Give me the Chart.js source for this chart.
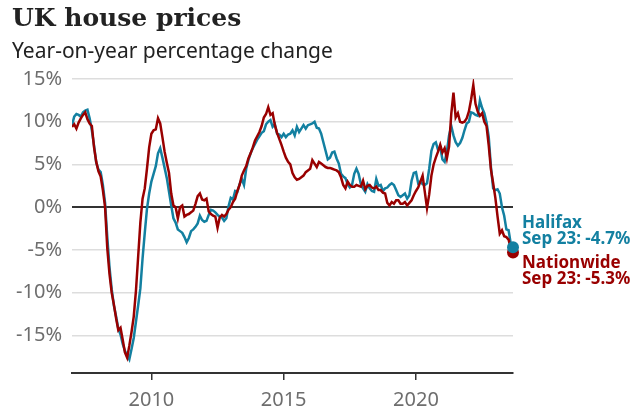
<!DOCTYPE html>
<html>
<head>
<meta charset="utf-8">
<script src="https://cdn.jsdelivr.net/npm/chart.js@4"></script>
<style>
  body { margin: 0; background: #fff; }
  #wrap { position: relative; width: 641px; height: 411px; }
  #title { position: absolute; left: 12px; top: 3px; font: bold 25px 'DejaVu Serif', serif; color: #222; line-height: 30px; }
  #subtitle { position: absolute; left: 12px; top: 36px; font: 21px 'Noto Sans', sans-serif; color: #222; line-height: 28px; }
  canvas { position: absolute; left: 0; top: 0; }
</style>
</head>
<body>
<div id="wrap">
  <canvas id="chart" width="641" height="411"></canvas>
  <div id="title">UK house prices</div>
  <div id="subtitle">Year-on-year percentage change</div>
</div>
<script>
// Monthly year-on-year change, Jan 2007 to Sep 2023
var startYear = 2007;
var seriesNames = ['Halifax', 'Nationwide'];
var seriesColors = ['#1380a1', '#990000'];
var lastLabel = 'Sep 23';
var yTicks = [-15, -10, -5, 0, 5, 10, 15];
var xTicks = [2010, 2015, 2020];

var halifax = [
  9.6, 10.6, 10.9, 10.8, 10.6, 11.1, 11.3, 11.4, 10.4, 9.0, 7.2, 5.2,
  4.4, 4.1, 2.6, 0.5, -3.5, -7.0, -9.6, -11.5, -12.8, -14.2, -14.9, -16.0,
  -16.8, -17.3, -17.8, -16.6, -15.3, -13.4, -11.5, -9.5, -6.0, -3.0, -0.2, 1.6,
  3.0, 3.9, 4.8, 6.3, 6.9, 5.8, 4.6, 3.4, 1.8, 0.2, -1.3, -1.8,
  -2.6, -2.8, -3.0, -3.5, -4.1, -3.6, -2.8, -2.6, -2.3, -1.9, -1.0, -1.5,
  -1.7, -1.6, -0.9, -0.3, -0.4, -0.6, -0.9, -1.1, -1.2, -1.6, -1.3, 0.1,
  1.1, 0.9, 1.9, 1.8, 2.7, 3.3, 2.6, 4.5, 5.5, 6.3, 6.9, 7.4,
  7.9, 8.3, 8.7, 8.9, 9.7, 10.0, 10.2, 9.4, 9.7, 8.6, 8.5, 8.2,
  8.6, 8.2, 8.5, 8.6, 9.0, 8.4, 9.4, 8.8, 9.2, 9.6, 9.2, 9.6,
  9.7, 9.8, 10.0, 9.3, 9.2, 8.6, 7.6, 6.6, 5.6, 5.8, 6.4, 6.5,
  5.7, 5.1, 3.9, 3.6, 3.4, 2.7, 2.3, 2.6, 3.9, 4.5, 3.9, 2.7,
  2.2, 1.8, 2.7, 2.2, 1.9, 1.8, 3.3, 2.5, 2.6, 1.9, 2.2, 2.3,
  2.6, 2.8, 2.6, 2.0, 1.4, 1.2, 1.4, 1.6, 1.0, 1.4, 3.1, 4.0,
  4.1, 2.8, 3.0, 2.7, 2.6, 2.8, 4.5, 6.6, 7.4, 7.6, 6.7, 7.0,
  5.6, 5.3, 6.5, 8.4, 9.5, 8.4, 7.6, 7.2, 7.5, 8.1, 9.0, 9.8,
  10.0, 11.1, 11.0, 10.8, 10.7, 12.5, 11.6, 11.0, 9.9, 8.2, 4.7, 2.2,
  2.0, 2.1, 1.6, 0.0, -1.0, -2.6, -2.7, -4.3, -4.7
];

var nationwide = [
  9.4, 9.7, 9.2, 9.9, 10.4, 10.8, 11.1, 10.3, 9.8, 9.5, 7.0, 5.3,
  4.2, 3.6, 2.0, 0.0, -4.8, -7.8, -10.0, -11.4, -13.0, -14.4, -14.1, -15.5,
  -17.0, -17.6, -16.2, -14.6, -12.8, -9.8, -5.8, -1.8, 1.0, 2.2, 4.5, 7.0,
  8.6, 9.0, 9.1, 10.4, 9.8, 8.2, 6.5, 5.2, 4.0, 1.6, 0.2, 0.0,
  -1.3, 0.0, 0.2, -1.1, -0.9, -0.8, -0.6, -0.4, 0.4, 1.3, 1.6, 0.9,
  0.8, 1.0, -0.5, -0.8, -1.0, -1.1, -2.4, -1.2, -0.9, -1.1, -0.8, -0.3,
  0.0, 0.6, 1.0, 1.9, 2.6, 3.7, 4.3, 4.8, 5.7, 6.3, 7.0, 7.8,
  8.3, 8.8, 9.5, 10.5, 10.9, 11.7, 10.8, 11.0, 9.6, 8.7, 8.0, 7.3,
  6.5, 5.8, 5.3, 5.0, 4.0, 3.5, 3.2, 3.3, 3.5, 3.7, 4.1, 4.3,
  4.5, 5.5, 5.1, 4.7, 5.3, 5.1, 4.9, 4.7, 4.6, 4.6, 4.5, 4.4,
  4.3, 4.1, 3.5, 2.6, 2.2, 3.0, 2.6, 2.4, 2.4, 2.6, 2.5, 2.4,
  3.1, 2.1, 2.5, 2.6, 2.3, 2.2, 2.4, 2.0, 2.0, 1.7, 1.6, 0.5,
  0.2, 0.6, 0.4, 0.8, 0.8, 0.4, 0.4, 0.6, 0.2, 0.5, 0.8, 1.4,
  1.9, 2.3, 3.0, 3.7, 1.8, -0.1, 1.5, 3.7, 5.0, 5.8, 6.5, 7.3,
  6.4, 6.9, 5.7, 7.1, 10.9, 13.4, 10.5, 11.0, 10.0, 9.9, 10.0, 10.4,
  11.2, 12.6, 14.3, 12.1, 11.2, 10.7, 11.0, 10.0, 9.5, 7.2, 4.4, 2.8,
  1.1, -1.1, -3.1, -2.7, -3.4, -3.5, -3.8, -4.8, -5.3
];

function toPoints(values) {
    return values.map(function(v, i) {
        return { x: startYear + i / 12, y: v };
    });
}

var lastIndex = halifax.length - 1;

// Draws the end dots and the labels to the right of the lines
var endLabels = {
    id: 'endLabels',
    afterDatasetsDraw: function(chart) {
        var ctx = chart.ctx;
        var x0 = chart.chartArea.right + 9;
        var pts = [0, 1].map(function(i) {
            return chart.getDatasetMeta(i).data[lastIndex];
        });
        // Nationwide dot first, Halifax dot over it
        [1, 0].forEach(function(i) {
            ctx.beginPath();
            ctx.arc(pts[i].x, pts[i].y, 6, 0, Math.PI * 2);
            ctx.fillStyle = seriesColors[i];
            ctx.fill();
        });
        ctx.save();
        ctx.font = 'bold 17px "Noto Sans", sans-serif';
        ctx.textAlign = 'left';
        ctx.textBaseline = 'alphabetic';
        var vals = [halifax[lastIndex], nationwide[lastIndex]];
        var offsets = [[-19, -3], [16, 32]];
        [0, 1].forEach(function(i) {
            ctx.fillStyle = seriesColors[i];
            ctx.fillText(seriesNames[i], x0, pts[i].y + offsets[i][0]);
            ctx.fillText(lastLabel + ': ' + vals[i].toFixed(1) + '%', x0, pts[i].y + offsets[i][1]);
        });
        ctx.restore();
    }
};

new Chart(document.getElementById('chart').getContext('2d'), {
    type: 'line',
    data: {
        datasets: [{
            label: seriesNames[0],
            data: toPoints(halifax),
            borderColor: seriesColors[0],
            borderWidth: 2.5,
            pointRadius: 0,
            tension: 0,
            order: 1
        }, {
            label: seriesNames[1],
            data: toPoints(nationwide),
            borderColor: seriesColors[1],
            borderWidth: 2.5,
            pointRadius: 0,
            tension: 0,
            order: 0
        }]
    },
    options: {
        responsive: false,
        animation: false,
        layout: { padding: { top: 79, right: 128, bottom: 0, left: 0 } },
        plugins: {
            legend: { display: false },
            tooltip: { enabled: false }
        },
        scales: {
            x: {
                type: 'linear',
                min: startYear,
                max: startYear + lastIndex / 12,
                afterBuildTicks: function(scale) {
                    scale.ticks = xTicks.map(function(v) { return { value: v }; });
                },
                afterFit: function(scale) { scale.height = 38; },
                border: { display: true, color: '#333', width: 2 },
                grid: { drawOnChartArea: false, drawTicks: true, tickLength: 7, color: '#333', lineWidth: 1.5 },
                ticks: {
                    color: '#6e6e6e',
                    font: { family: 'Noto Sans', size: 20 },
                    padding: 8,
                    maxRotation: 0,
                    callback: function(v) { return String(v); }
                }
            },
            y: {
                min: -19.4,
                max: 15,
                afterBuildTicks: function(scale) {
                    scale.ticks = yTicks.map(function(v) { return { value: v }; });
                },
                afterFit: function(scale) { scale.width = 72; },
                border: { display: false },
                grid: {
                    drawTicks: false,
                    color: function(c) { return c.tick && c.tick.value === 0 ? '#333' : '#dddddd'; },
                    lineWidth: function(c) { return c.tick && c.tick.value === 0 ? 2 : 1.5; }
                },
                ticks: {
                    color: '#6e6e6e',
                    font: { family: 'Noto Sans', size: 20 },
                    padding: 10,
                    callback: function(v) { return v + '%'; }
                }
            }
        }
    },
    plugins: [endLabels]
});
</script>
</body>
</html>
